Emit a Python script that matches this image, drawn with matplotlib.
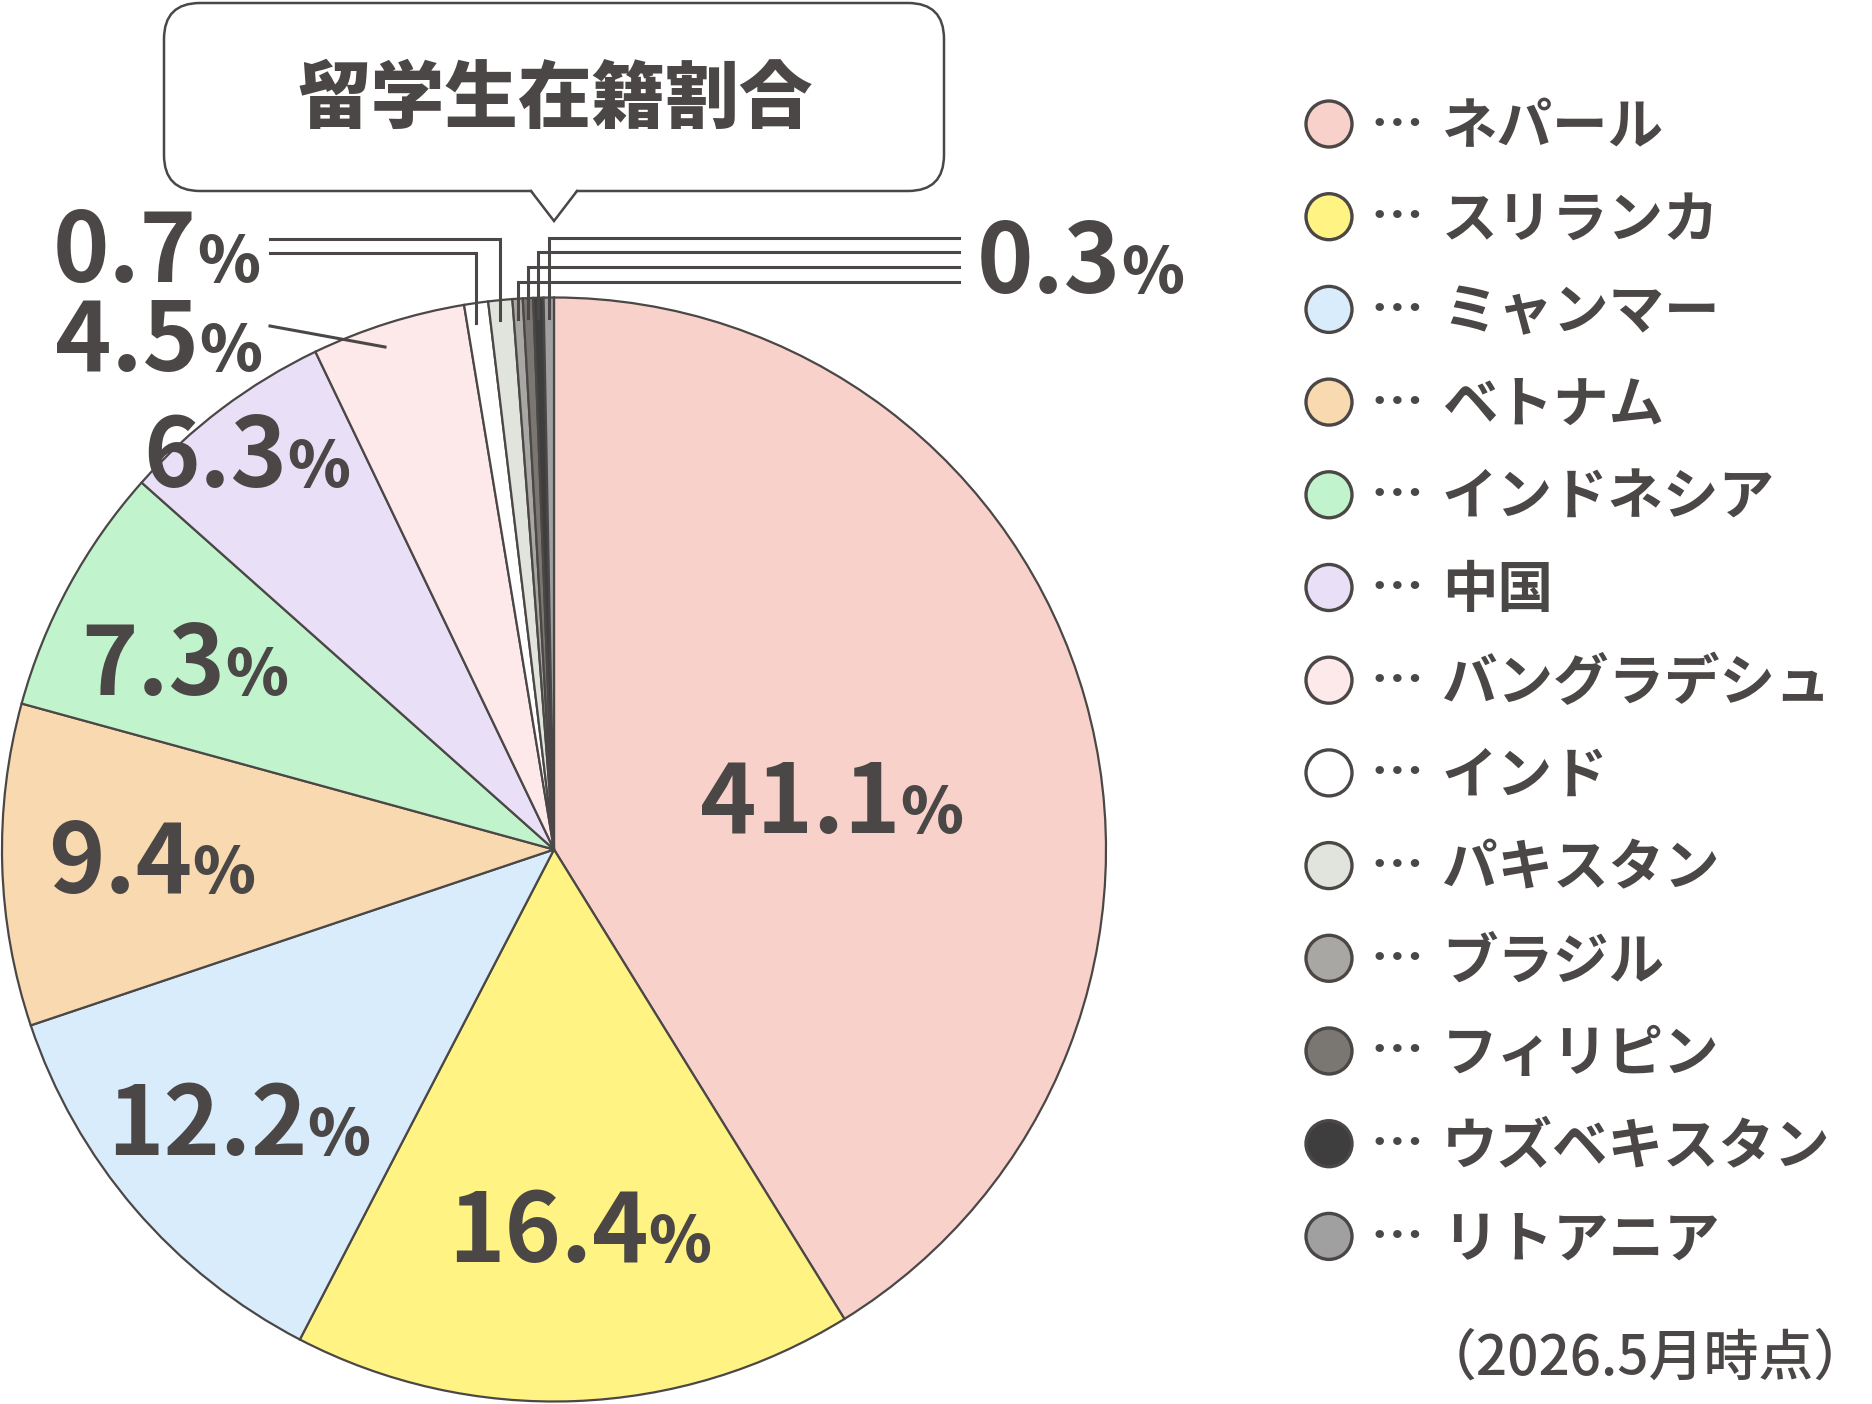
import numpy as np
import matplotlib.pyplot as plt
from matplotlib.patches import FancyBboxPatch, Polygon, Circle

plt.rcParams['font.family'] = ['Noto Sans CJK JP', 'DejaVu Sans']

# data
countries = ['ネパール', 'スリランカ', 'ミャンマー', 'ベトナム', 'インドネシア', '中国',
             'バングラデシュ', 'インド', 'パキスタン', 'ブラジル', 'フィリピン',
             'ウズベキスタン', 'リトアニア']
shares = [41.1, 16.4, 12.2, 9.4, 7.3, 6.3, 4.5, 0.7, 0.7, 0.3, 0.3, 0.3, 0.3]
colors = ['#f8d2ca', '#fff383', '#d9ecfb', '#f9dab0', '#c1f4cc', '#e9dff7',
          '#fde8ea', '#ffffff', '#e1e3dd', '#a8a7a3', '#7a7671', '#3e3e3e', '#a0a0a0']
title = '留学生在籍割合'
note = '（2026.5月時点）'

W, H = 1872, 1404
ink = '#4b4746'

fig = plt.figure(figsize=(W / 100, H / 100), dpi=100)
ax = fig.add_axes([0, 0, 1, 1])

cx, cy, R = 554, 849.5, 552
wedges, _ = ax.pie(shares, colors=colors, startangle=-90, counterclock=True,
                   center=(cx, cy), radius=R,
                   wedgeprops=dict(edgecolor=ink, linewidth=1.6))
ax.set_xlim(0, W)
ax.set_ylim(H, 0)
ax.set_aspect('equal')
ax.axis('off')

# callout title box
box = FancyBboxPatch((164, 3), 780, 188, boxstyle='round,pad=0,rounding_size=36',
                     fc='white', ec=ink, lw=1.8, zorder=5)
ax.add_patch(box)
ax.add_patch(Polygon([(531, 189), (554, 221), (577, 189)], closed=True,
                     fc='white', ec='none', zorder=6))
ax.plot([531, 554, 577], [191, 221, 191], color=ink, lw=1.8, zorder=7,
        solid_joinstyle='miter')
ax.text(555, 100, title, fontsize=53, fontweight='heavy', color=ink,
        ha='center', va='center', zorder=8)

# percent labels
fig.canvas.draw()
renderer = fig.canvas.get_renderer()
inv = ax.transData.inverted()


def pct_label(x, y, val):
    t = ax.text(x, y, f'{val}', fontsize=69, fontweight='bold', color=ink,
                ha='left', va='baseline', zorder=9)
    bb = t.get_window_extent(renderer)
    x1 = inv.transform((bb.x1, bb.y0))[0]
    ax.text(x1, y, '%', fontsize=46, fontweight='heavy', color=ink,
            ha='left', va='baseline', zorder=9)


label_xy = [(700, 833), (448, 1262), (107, 1155), (48, 893), (81, 695),
            (143, 487), (55, 371), (53, 282)]
for i, (lx, ly) in enumerate(label_xy):
    pct_label(lx, ly, shares[i])
pct_label(977, 293, shares[9])

# leader lines for thin slices
lw_lead = 2.2
# 4.5% pointer
ax.plot([270, 385], [326, 347], color=ink, lw=lw_lead, zorder=9)

left_y = {7: 253, 8: 239}
right_y = {9: 282, 10: 267, 11: 252, 12: 238}
for i, w in enumerate(wedges):
    if i < 7:
        continue
    a = np.deg2rad((w.theta1 + w.theta2) / 2)
    x = cx + R * np.cos(a)
    y_in = cy + (R - 20) * np.sin(a)
    if i in left_y:
        yh, xe = left_y[i], 270
    else:
        yh, xe = right_y[i], 959
    ax.plot([x, x, xe], [y_in, yh, yh], color=ink, lw=lw_lead, zorder=9,
            solid_joinstyle='miter')

# legend
for i, (name, c) in enumerate(zip(countries, colors)):
    ly = 124 + i * 92.7
    ax.add_patch(Circle((1329, ly), 23, fc=c, ec=ink, lw=2.4, zorder=5))
    ax.text(1397, ly + 2, '…', fontsize=38, fontweight='bold', color=ink,
            ha='center', va='center')
    ax.text(1442, ly + 4, name, fontsize=40, fontweight='bold', color=ink,
            ha='left', va='center')

ax.text(1869, 1359, note, fontsize=39.5, fontweight='medium', color=ink,
        ha='right', va='center')

fig.savefig('out.png', dpi=100, facecolor='white')
